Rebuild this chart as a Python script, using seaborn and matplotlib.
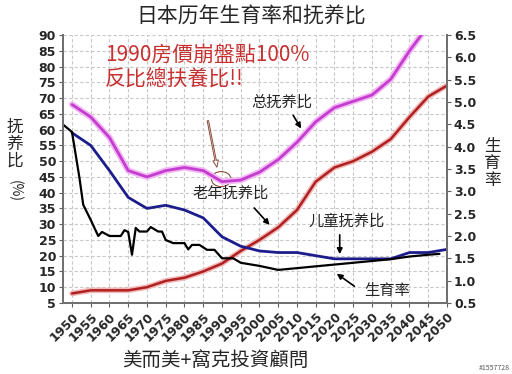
import matplotlib
matplotlib.use('Agg')
import matplotlib.pyplot as plt
import seaborn as sns
from matplotlib.patches import Ellipse

# 数据
years = [1950, 1955, 1960, 1965, 1970, 1975, 1980, 1985, 1990, 1995, 2000,
         2005, 2010, 2015, 2020, 2025, 2030, 2035, 2040, 2045, 2050]
total_ratio = [68, 64, 57.5, 47, 45, 47, 48, 47, 43.5, 44, 46.5,
               50.5, 56, 62.5, 67, 69, 71, 76, 85, 93, 97]
child_ratio = [59, 55, 47, 38.5, 35, 36, 34.5, 32, 26, 23, 21.5,
               21, 21, 20, 19, 19, 19, 19, 21, 21, 22]
old_ratio = [8, 9, 9, 9, 10, 12, 13, 15, 17.5, 21.5, 25,
             29, 34.5, 43.5, 48, 50, 53, 57, 64, 70.5, 74]

fert_years = [1947, 1950, 1952, 1953, 1955, 1957, 1958, 1960, 1963, 1964, 1965,
              1966, 1967, 1968, 1970, 1971, 1973, 1974, 1975, 1977, 1980, 1981,
              1982, 1984, 1986, 1988, 1990, 1993, 1995, 2000, 2005, 2010, 2020,
              2030, 2035, 2040, 2045, 2048]
fert_rate = [4.54, 4.33, 3.3, 2.7, 2.36, 2.0, 2.09, 2.0, 2.0, 2.13, 2.09,
             1.58, 2.18, 2.1, 2.1, 2.2, 2.1, 2.1, 1.91, 1.84, 1.84, 1.7,
             1.8, 1.8, 1.69, 1.69, 1.5, 1.5, 1.4, 1.33, 1.24, 1.28, 1.36,
             1.44, 1.48, 1.54, 1.58, 1.6]

left_ticks = list(range(5, 95, 5))
right_ticks = [0.5, 1.0, 1.5, 2.0, 2.5, 3.0, 3.5, 4.0, 4.5, 5.0, 5.5, 6.0, 6.5]

sns.set_style('white')
plt.rcParams['font.family'] = ['Noto Sans CJK SC', 'DejaVu Sans']

fig = plt.figure(figsize=(5.12, 3.74), dpi=100)
ax = fig.add_axes([0.123, 0.19, 0.75, 0.716])
ax2 = ax.twinx()

# 网格
for t in left_ticks:
    ax.axhline(t, color='#c8c8c8', lw=0.8, ls=(0, (3, 2)), zorder=0)
for y in years:
    ax.axvline(y, color='#c8c8c8', lw=0.8, ls=(0, (3, 2)), zorder=0)

# 线条 (带浅色光晕)
sns.lineplot(x=years, y=total_ratio, ax=ax, color='#f2b8f2', lw=4.5)
sns.lineplot(x=years, y=total_ratio, ax=ax, color='#c43cd0', lw=2)
sns.lineplot(x=years, y=old_ratio, ax=ax, color='#f0b8b8', lw=4)
sns.lineplot(x=years, y=old_ratio, ax=ax, color='#b02020', lw=1.8)
sns.lineplot(x=years, y=child_ratio, ax=ax, color='#1c1c8c', lw=2)
sns.lineplot(x=fert_years, y=fert_rate, ax=ax2, color='black', lw=1.6)

ax.set_xlim(1947.6, 2050)
ax.set_ylim(5, 90)
ax2.set_ylim(0.5, 6.5)

tick_font = dict(family='DejaVu Sans', weight='bold', size=9)
ax.set_yticks(left_ticks)
ax.set_yticklabels([str(t) for t in left_ticks], fontdict=tick_font)
ax2.set_yticks(right_ticks)
ax2.set_yticklabels([f'{t:.1f}' for t in right_ticks], fontdict=tick_font)
ax.set_xticks(years)
ax.set_xticklabels([str(y) for y in years], fontdict=tick_font,
                   rotation=45, ha='right', rotation_mode='anchor')
ax.tick_params(axis='both', length=3, pad=2, color='#606060', left=True, bottom=True)
ax2.tick_params(axis='y', length=3, pad=2, color='#606060', right=True)

for a in (ax, ax2):
    a.spines['top'].set_visible(False)
    for s in ('left', 'bottom', 'right'):
        a.spines[s].set_color('#707070')
        a.spines[s].set_linewidth(1.4)
ax.set_xlabel('')
ax.set_ylabel('')
ax2.set_ylabel('')

# 标注
arrow = dict(arrowstyle='-|>', color='black', lw=1.2, mutation_scale=8)
ax.text(2006, 68.8, '总抚养比', fontsize=11, ha='center', va='center')
ax.annotate('', xy=(2011.5, 59.6), xytext=(2008.6, 65.3), arrowprops=arrow)
ax.text(1992.2, 39.9, '老年抚养比', fontsize=11, ha='center', va='center')
ax.annotate('', xy=(2003.2, 29.1), xytext=(1998.1, 35.8), arrowprops=arrow)
ax.text(2023.3, 31.0, '儿童抚养比', fontsize=11, ha='center', va='center')
ax.annotate('', xy=(2021.4, 19.6), xytext=(2021.4, 27.5), arrowprops=arrow)
ax.text(2034, 9.1, '生育率', fontsize=11, ha='center', va='center')
ax.annotate('', xy=(2020, 14.8), xytext=(2025.9, 9.8), arrowprops=arrow)

ax.annotate('', xy=(1988.8, 47.2), xytext=(1986.1, 63.7),
            arrowprops=dict(arrowstyle='simple,head_width=0.4,tail_width=0.1',
                            fc='white', ec='#8b4a3a', lw=0.7))
ax.add_patch(Ellipse((1989.8, 44.3), 5.2, 4.8, fill=False, ec='#8b4a3a', lw=0.8))

fig.text(0.49, 0.955, '日本历年生育率和抚养比', fontsize=15, ha='center', va='center')
fig.text(0.205, 0.853, '1990房價崩盤點100%', fontsize=15, color='#c83030',
         ha='left', va='center')
fig.text(0.205, 0.786, '反比總扶養比!!', fontsize=15, color='#c83030',
         ha='left', va='center')
fig.text(0.029, 0.615, '抚\n养\n比', fontsize=12, ha='center', va='center', linespacing=1.0)
fig.text(0.029, 0.49, '(%)', fontsize=10, ha='center', va='center', rotation=-90)
fig.text(0.961, 0.564, '生\n育\n率', fontsize=12, ha='center', va='center', linespacing=1.0)
fig.text(0.42, 0.037, '美而美+窩克投資顧問', fontsize=14, ha='center', va='center')
fig.text(0.995, 0.015, '#1557728', fontsize=5, ha='right', va='center', color='#555555')

fig.savefig('out.png', dpi=100)
